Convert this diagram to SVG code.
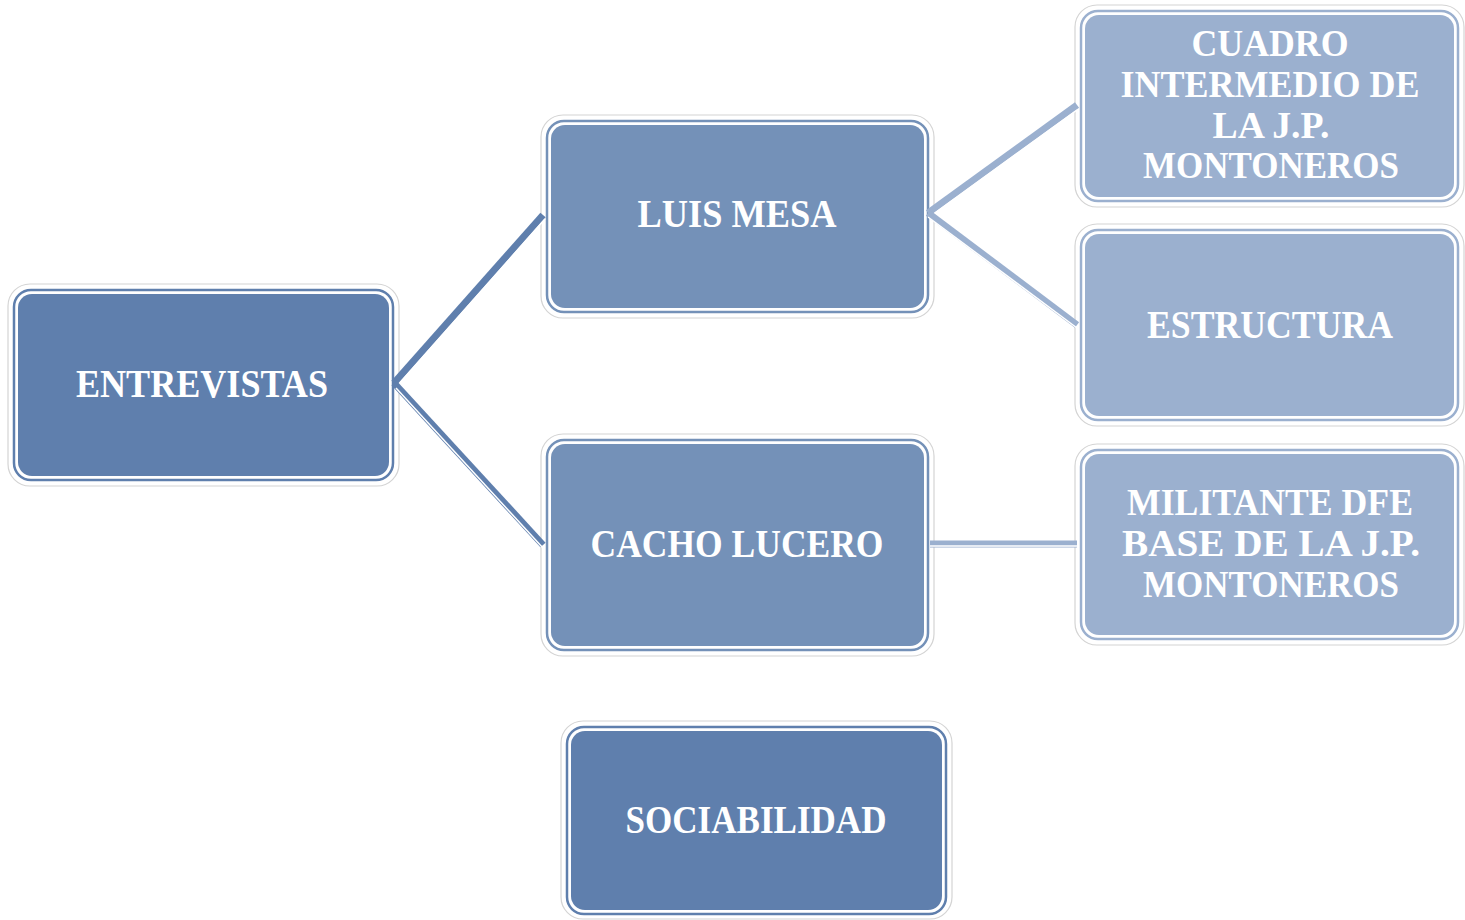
<svg xmlns="http://www.w3.org/2000/svg" width="1465" height="920" viewBox="0 0 1465 920">
<style>
.o{fill:#fff;stroke:#d4d4d4;stroke-width:1.2}
.t{font-family:"Liberation Serif","DejaVu Serif",serif;font-weight:bold;font-size:40px;fill:#fff;text-anchor:middle}
.m{font-size:37px}
.ln{fill:none;stroke-width:7;stroke-linecap:butt}
.wl{fill:none;stroke:#fff;stroke-width:1.5}
</style>
<rect width="1465" height="920" fill="#fff"/>
<g id="entrevistas">
<rect class="o" x="8" y="284" width="391" height="202" rx="22"/>
<rect x="14" y="290" width="379" height="190" rx="17" fill="none" stroke="#5f7fad" stroke-width="2.5"/>
<rect x="18" y="294" width="371" height="182" rx="14" fill="#5f7fad"/>
<text class="t" x="202" y="397" textLength="252" lengthAdjust="spacingAndGlyphs">ENTREVISTAS</text>
</g>
<g id="luis-mesa">
<rect class="o" x="541" y="115" width="393" height="203" rx="22"/>
<rect x="547" y="121" width="381" height="191" rx="17" fill="none" stroke="#7491b8" stroke-width="2.5"/>
<rect x="551" y="125" width="373" height="183" rx="14" fill="#7491b8"/>
<text class="t" x="737" y="227" textLength="199" lengthAdjust="spacingAndGlyphs">LUIS  MESA</text>
</g>
<g id="cacho-lucero">
<rect class="o" x="541" y="434" width="393" height="222" rx="22"/>
<rect x="547" y="440" width="381" height="210" rx="17" fill="none" stroke="#7491b8" stroke-width="2.5"/>
<rect x="551" y="444" width="373" height="202" rx="14" fill="#7491b8"/>
<text class="t" x="737" y="557" textLength="293" lengthAdjust="spacingAndGlyphs">CACHO  LUCERO</text>
</g>
<g id="sociabilidad">
<rect class="o" x="561" y="721" width="391" height="198" rx="22"/>
<rect x="567" y="727" width="379" height="187" rx="17" fill="none" stroke="#5f7fad" stroke-width="2.5"/>
<rect x="571" y="731" width="371" height="179" rx="14" fill="#5f7fad"/>
<text class="t" x="756" y="833" textLength="261" lengthAdjust="spacingAndGlyphs">SOCIABILIDAD</text>
</g>
<g id="cuadro">
<rect class="o" x="1075" y="5" width="389" height="202" rx="22"/>
<rect x="1081" y="11" width="377" height="190" rx="17" fill="none" stroke="#9bb0cf" stroke-width="2.5"/>
<rect x="1085" y="15" width="369" height="182" rx="14" fill="#9bb0cf"/>
<text class="t m" x="1270" y="56" textLength="157" lengthAdjust="spacingAndGlyphs">CUADRO</text>
<text class="t m" x="1270" y="97" textLength="299" lengthAdjust="spacingAndGlyphs">INTERMEDIO  DE</text>
<text class="t m" x="1271" y="138" textLength="117" lengthAdjust="spacingAndGlyphs">LA  J.P.</text>
<text class="t m" x="1271" y="178" textLength="256" lengthAdjust="spacingAndGlyphs">MONTONEROS</text>
</g>
<g id="estructura">
<rect class="o" x="1075" y="224" width="389" height="202" rx="22"/>
<rect x="1081" y="230" width="377" height="190" rx="17" fill="none" stroke="#9bb0cf" stroke-width="2.5"/>
<rect x="1085" y="234" width="369" height="182" rx="14" fill="#9bb0cf"/>
<text class="t" x="1270" y="338" textLength="246" lengthAdjust="spacingAndGlyphs">ESTRUCTURA</text>
</g>
<g id="militante">
<rect class="o" x="1075" y="444" width="389" height="201" rx="22"/>
<rect x="1081" y="450" width="377" height="189" rx="17" fill="none" stroke="#9bb0cf" stroke-width="2.5"/>
<rect x="1085" y="454" width="369" height="181" rx="14" fill="#9bb0cf"/>
<text class="t m" x="1270" y="515" textLength="286" lengthAdjust="spacingAndGlyphs">MILITANTE  DFE</text>
<text class="t m" x="1271" y="556" textLength="298" lengthAdjust="spacingAndGlyphs">BASE  DE  LA  J.P.</text>
<text class="t m" x="1271" y="597" textLength="256" lengthAdjust="spacingAndGlyphs">MONTONEROS</text>
</g>
<g id="connectors">
<line class="ln" x1="394" y1="383" x2="543" y2="215" stroke="#5f7fad"/>
<line class="wl" x1="398" y1="385" x2="545" y2="219"/>
<line class="ln" x1="394" y1="383" x2="543" y2="545" stroke="#5f7fad"/>
<line class="wl" x1="396" y1="388" x2="543" y2="548"/>
<line class="ln" x1="928" y1="213" x2="1077" y2="105" stroke="#9bb0cf"/>
<line class="wl" x1="932" y1="215" x2="1077" y2="110"/>
<line class="ln" x1="928" y1="213" x2="1077" y2="325" stroke="#9bb0cf"/>
<line class="wl" x1="928" y1="217" x2="1077" y2="328"/>
<line class="ln" x1="930" y1="544" x2="1077" y2="544" stroke="#9bb0cf"/>
<line class="wl" x1="930" y1="546" x2="1077" y2="546"/>
</g>
</svg>
